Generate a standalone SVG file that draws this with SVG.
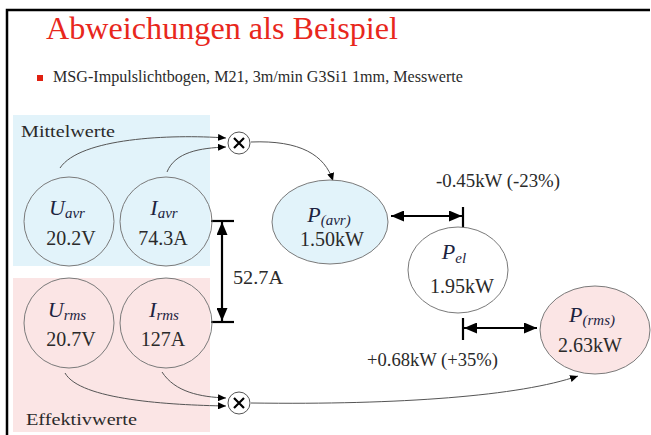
<svg xmlns="http://www.w3.org/2000/svg" width="651" height="435" viewBox="0 0 651 435">
<style>
text{fill:#2a2a2a}
.lbl{font-size:17px}
.val{font-size:20px;text-anchor:middle}
.math{font-size:22px;font-style:italic;text-anchor:middle;fill:#1c2340}
.sub{font-size:15px}
.node{stroke:#7a7a7a;stroke-width:1}
.thin{fill:none;stroke:#555;stroke-width:1}
.thick{fill:none;stroke:#000;stroke-width:2.2}
.tick{stroke:#000;stroke-width:2.2}
</style>
<defs>
<marker id="ah" markerUnits="userSpaceOnUse" markerWidth="8" markerHeight="7" refX="8" refY="3.5" orient="auto"><path d="M0,0 L8,3.5 L0,7 z" fill="#000"/></marker>
<marker id="big" markerUnits="userSpaceOnUse" markerWidth="13" markerHeight="11" refX="13" refY="5.5" orient="auto-start-reverse"><path d="M0,0 L13,5.5 L0,11 z" fill="#000"/></marker>
</defs>
<rect width="651" height="435" fill="#fff"/>
<path d="M7,435 V10 H650" fill="none" stroke="#000" stroke-width="2.5"/>
<text font-family="Liberation Serif" x="46" y="39" font-size="32" style="fill:#e8271c" textLength="352" lengthAdjust="spacingAndGlyphs">Abweichungen als Beispiel</text>
<rect x="37" y="75" width="6" height="6" fill="#e02010"/>
<text font-family="Liberation Serif" x="53" y="82" font-size="17" textLength="410" lengthAdjust="spacingAndGlyphs">MSG-Impulslichtbogen, M21, 3m/min G3Si1 1mm, Messwerte</text>

<g id="group-mittelwerte">
<rect x="13" y="115" width="197" height="151" fill="#e2f3fa"/>
<text font-family="Liberation Serif" class="lbl" x="21" y="137" textLength="94" lengthAdjust="spacingAndGlyphs">Mittelwerte</text>
</g>
<g id="group-effektivwerte">
<rect x="13" y="278" width="197" height="154" fill="#fbe5e5"/>
<text font-family="Liberation Serif" class="lbl" x="26" y="425" textLength="111" lengthAdjust="spacingAndGlyphs">Effektivwerte</text>
</g>

<g id="connectors">
<path class="thin" d="M60,168 C80,138 170,134 226,138" marker-end="url(#ah)"/>
<path class="thin" d="M167,172 C175,152 200,148 226,147" marker-end="url(#ah)"/>
<path class="thin" d="M251,142 C300,140 325,155 333,181" marker-end="url(#ah)"/>
<path class="thin" d="M65,373 C80,400 170,405 226,406" marker-end="url(#ah)"/>
<path class="thin" d="M162,372 C175,392 200,397 226,398" marker-end="url(#ah)"/>
<path class="thin" d="M251,403 C400,405 520,396 578,376" marker-end="url(#ah)"/>
<line class="thick" x1="222" y1="222" x2="222" y2="321" marker-start="url(#big)" marker-end="url(#big)"/>
<line class="tick" x1="211" y1="221" x2="234" y2="221"/>
<line class="tick" x1="211" y1="322" x2="234" y2="322"/>
<line class="thick" x1="391" y1="216" x2="462" y2="216" marker-start="url(#big)" marker-end="url(#big)"/>
<line class="tick" x1="463" y1="207" x2="463" y2="228"/>
<line class="thick" x1="464" y1="328" x2="537" y2="328" marker-start="url(#big)" marker-end="url(#big)"/>
<line class="tick" x1="463" y1="318" x2="463" y2="340"/>
<text font-family="Liberation Serif" x="233" y="284" font-size="18" textLength="50" lengthAdjust="spacingAndGlyphs">52.7A</text>
<text font-family="Liberation Serif" x="436" y="187" font-size="18" textLength="124" lengthAdjust="spacingAndGlyphs">-0.45kW (-23%)</text>
<text font-family="Liberation Serif" x="367" y="366" font-size="18" textLength="131" lengthAdjust="spacingAndGlyphs">+0.68kW (+35%)</text>
</g>

<g id="mult-top">
<circle cx="239" cy="143" r="11" fill="#fff" stroke="#555" stroke-width="1"/>
<path d="M234,138 L244,148 M244,138 L234,148" stroke="#000" stroke-width="2.2"/>
</g>
<g id="mult-bottom">
<circle cx="239" cy="403" r="11" fill="#fff" stroke="#555" stroke-width="1"/>
<path d="M234,398 L244,408 M244,398 L234,408" stroke="#000" stroke-width="2.2"/>
</g>

<g id="node-uavr">
<ellipse class="node" cx="69" cy="221.5" rx="45" ry="44.5" fill="none"/>
<text font-family="Liberation Serif" class="math" x="67" y="215">U<tspan class="sub" dy="3">avr</tspan></text>
<text font-family="Liberation Serif" class="val" x="71" y="245">20.2V</text>
</g>
<g id="node-iavr">
<ellipse class="node" cx="166" cy="221.5" rx="46" ry="44.5" fill="none"/>
<text font-family="Liberation Serif" class="math" x="164" y="215">I<tspan class="sub" dy="3">avr</tspan></text>
<text font-family="Liberation Serif" class="val" x="163" y="245">74.3A</text>
</g>
<g id="node-urms">
<ellipse class="node" cx="69" cy="323" rx="45" ry="45" fill="none"/>
<text font-family="Liberation Serif" class="math" x="67" y="317">U<tspan class="sub" dy="3">rms</tspan></text>
<text font-family="Liberation Serif" class="val" x="71" y="346">20.7V</text>
</g>
<g id="node-irms">
<ellipse class="node" cx="166" cy="323" rx="46" ry="45" fill="none"/>
<text font-family="Liberation Serif" class="math" x="164" y="317">I<tspan class="sub" dy="3">rms</tspan></text>
<text font-family="Liberation Serif" class="val" x="163" y="346">127A</text>
</g>
<g id="node-pavr">
<ellipse class="node" cx="330" cy="222" rx="58" ry="42" fill="#e2f3fa"/>
<text font-family="Liberation Serif" class="math" x="329" y="222">P<tspan class="sub" dy="3">(avr)</tspan></text>
<text font-family="Liberation Serif" class="val" x="332" y="246">1.50kW</text>
</g>
<g id="node-pel">
<ellipse class="node" cx="458" cy="270" rx="50" ry="43" fill="#fff"/>
<text font-family="Liberation Serif" class="math" x="454" y="259">P<tspan class="sub" dy="4">el</tspan></text>
<text font-family="Liberation Serif" class="val" x="462" y="293">1.95kW</text>
</g>
<g id="node-prms">
<ellipse class="node" cx="595" cy="330" rx="55" ry="44" fill="#fbe5e5"/>
<text font-family="Liberation Serif" class="math" x="592" y="322">P<tspan class="sub" dy="3">(rms)</tspan></text>
<text font-family="Liberation Serif" class="val" x="590" y="352">2.63kW</text>
</g>
</svg>
